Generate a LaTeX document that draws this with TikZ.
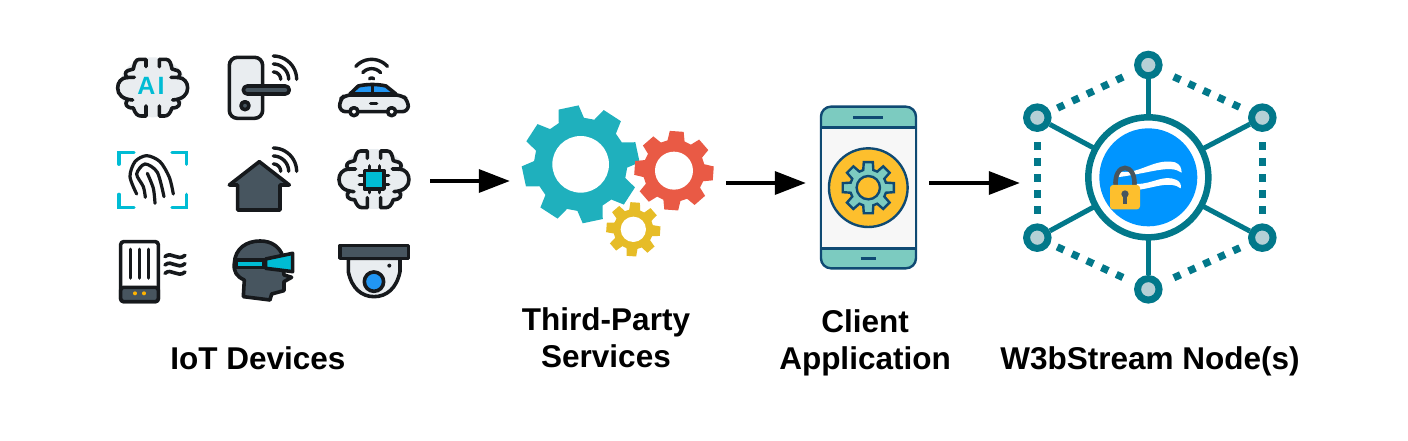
\documentclass[tikz,border=0pt]{standalone}
\usepackage{fontspec}
\setmainfont{Liberation Sans}
\usetikzlibrary{arrows.meta,calc}
\definecolor{iconblack}{HTML}{16191C}
\definecolor{icongray}{HTML}{E9EDF0}
\definecolor{iconslate}{HTML}{47555F}
\definecolor{iconcyan}{HTML}{00BCD4}
\definecolor{iconblue}{HTML}{2196F3}
\definecolor{iconamber}{HTML}{FFB300}
\definecolor{gearteal}{HTML}{1FB0BD}
\definecolor{gearred}{HTML}{E95A45}
\definecolor{gearyellow}{HTML}{E6BC27}
\definecolor{phonenavy}{HTML}{0F4A73}
\definecolor{phoneteal}{HTML}{7CCBC0}
\definecolor{phoneamber}{HTML}{FDBF2D}
\definecolor{hubteal}{HTML}{02788A}
\definecolor{hubpale}{HTML}{B5D0D6}
\definecolor{hubblue}{HTML}{0095FF}
\tikzset{>=latex,
  flow/.style={-{Triangle[length=31pt,width=23pt]},line width=3.5pt,black},
  anchorbox/.style={inner sep=0pt,minimum height=4pt},
  caption/.style={font=\fontsize{31.5}{37}\selectfont\bfseries,align=center,text=black},
  iconline/.style={draw=iconblack,line width=3.6pt,line join=round,line cap=round},
  fpline/.style={draw=iconblack,line width=3.2pt,line cap=round},
  wifiline/.style={draw=iconblack,line width=3.4pt,line cap=round},
  phoneline/.style={draw=phonenavy,line width=2.4pt},
  spoke/.style={draw=hubteal,line width=5pt},
  hubdot/.style={draw=hubteal,line width=7.3pt},
  hubnode/.style={circle,draw=hubteal,fill=hubpale,line width=7pt,minimum size=21.5pt,inner sep=0pt}
}
% one gear: cx, cy, body radius, tip radius, offset angle
\newcommand{\gearpath}[5]{($(#1,#2)+(#5-16:#3)$)
  \foreach \a in {0,45,...,315} { -- ($(#1,#2)+(#5+\a-16:#3)$) -- ($(#1,#2)+(#5+\a-10:#4)$) -- ($(#1,#2)+(#5+\a+10:#4)$) -- ($(#1,#2)+(#5+\a+16:#3)$) } -- cycle}
\newcommand{\wifiarcs}[7]{%
  \foreach \r in {#5,#6,#7}
    \draw[wifiline] plot[domain=#3:#4,samples=13,smooth] ({#1+\r*cos(\x)},{#2+\r*sin(\x)});}
% five square dots between two hub nodes: from, to, first distance, pitch
\newcommand{\dotrun}[4]{%
  \foreach \k in {0,...,4} {
    \pgfmathsetmacro{\da}{#3+\k*#4}
    \pgfmathsetmacro{\db}{\da+7.3}
    \draw[hubdot] ($(#1)!\da pt!(#2)$) -- ($(#1)!\db pt!(#2)$);
  }}
\newcommand{\brainicon}[2]{%
  \fill[icongray] (#1,#2) ellipse [x radius=100,y radius=90];
  \foreach \s in {1,-1} {
  \begin{scope}[shift={(#1,#2)},xscale=\s]
    \draw[iconline] (20,-62) -- (20,-84) -- (40,-84) .. controls (52,-84) and (55,-70) .. (58,-55)
      -- (75,-50) .. controls (85,-45) and (82,-35) .. (76,-28);
    \draw[iconline] (55,-30) -- (76,-30) .. controls (95,-28) and (105,-15) .. (105,2)
      .. controls (105,22) and (90,36) .. (60,38);
    \draw[iconline] (76,38) .. controls (85,50) and (80,62) .. (58,62)
      .. controls (52,80) and (45,86) .. (35,86) -- (20,86) -- (20,56);
  \end{scope}}}

\begin{document}
\begin{tikzpicture}[x=1pt,y=-1pt]
\useasboundingbox (0,0) rectangle (1408,440);

%devices
\begin{scope}[shift={(100,40)},x=.3333pt,y=-.3333pt]
\brainicon{158}{142}
\node[font=\fontsize{25}{25}\selectfont\bfseries,text=iconcyan,inner sep=0pt] (ai) at (153,137) {A\kern2ptI};

\draw[iconline,fill=icongray,rounded corners=8pt] (388,52) rectangle (488,235);
\draw[iconline,fill=iconslate,rounded corners=4pt] (430,138) rectangle (568,162);
\draw[iconline,fill=iconslate] (435,197) circle (12);
\wifiarcs{520}{118}{-90}{0}{22}{46}{70}

\wifiarcs{815}{122}{-138}{-42}{8}{36}{64}
\draw[iconline,fill=iconblue] (750,162) -- (775,138) .. controls (800,132) and (835,132) .. (858,138) -- (888,162) -- cycle;
\draw[iconline,fill=icongray,rounded corners=6pt] (719,215) -- (719,180) -- (735,165) -- (905,165) -- (925,182) -- (925,215) -- cycle;
\draw[iconline] (817,138) -- (817,162) (812,190) -- (830,190);
\draw[iconline,fill=white] (762,215) circle (12) (875,215) circle (12);

\draw[iconcyan,line width=3.2pt,line cap=round]
  (57,373) -- (57,337) -- (102,337)  (216,337) -- (260,337) -- (260,373)
  (57,463) -- (57,502) -- (102,502)  (216,502) -- (260,502) -- (260,463);
\draw[fpline] plot[smooth] coordinates {(110,462) (90,410) (105,365) (140,347) (180,365) (208,412) (220,462)};
\draw[fpline] plot[smooth] coordinates {(136,472) (130,440) (110,402) (135,372) (172,397) (192,470)};
\draw[fpline] plot[smooth] coordinates {(165,490) (160,445) (142,400)};

\draw[iconline,fill=iconslate] (388,435) -- (478,365) -- (568,435) -- (540,435) -- (540,510) -- (413,510) -- (413,435) -- cycle;
\wifiarcs{520}{394}{-90}{0}{22}{46}{70}

\brainicon{822}{417}
\foreach \p in {808,838} \draw[iconline] (\p,378) -- (\p,458);
\foreach \p in {406,433} \draw[iconline] (778,\p) -- (866,\p);
\draw[iconline,fill=iconcyan] (793,392) rectangle (852,447);

\draw[iconline,fill=white,rounded corners=3pt] (62,605) rectangle (175,785);
\draw[iconline,fill=iconslate,rounded corners=3pt] (62,742) rectangle (175,785);
\foreach \p in {92,118,145} \draw[iconline,fill=iconblack] (\p,628) -- (\p,714);
\fill[iconamber] (105,760) circle (6) (132,760) circle (6);
\foreach \p in {650,675,700}
  \draw[iconline] (195,\p) .. controls (215,\p-18) and (232,\p+16) .. (255,\p-4);

\draw[iconline,fill=iconslate] (403,670) .. controls (405,625) and (440,603) .. (480,603)
  .. controls (515,603) and (535,620) .. (545,640) -- (552,705) -- (575,712) -- (552,725)
  -- (552,752) -- (515,762) -- (510,780) -- (430,770) -- (433,720) .. controls (410,710) and (400,695) .. (403,670) -- cycle;
\draw[iconline,fill=iconcyan] (408,660) -- (492,660) -- (492,682) -- (408,682) -- cycle;
\draw[iconline,fill=iconcyan] (497,657) -- (578,640) -- (578,695) -- (497,685) -- cycle;

\draw[iconline,fill=icongray] (745,655) -- (745,695) .. controls (755,745) and (785,770) .. (822,770)
  .. controls (860,770) and (890,745) .. (900,695) -- (900,655) -- cycle;
\draw[iconline,fill=iconslate] (720,617) rectangle (925,655);
\draw[iconline,fill=iconblue] (822,725) circle (29);
\fill[iconblack] (868,677) circle (6);
\end{scope}

%gears
\begin{scope}[shift={(500,90)},x=.3333pt,y=-.3333pt]
\fill[gearteal] \gearpath{242}{223}{140}{177}{33};
\fill[white] (242,223) circle (85);
\fill[gearred] \gearpath{522}{242}{93}{120}{4};
\fill[white] (522,242) circle (57);
\fill[gearyellow] \gearpath{400}{418}{60}{82}{4};
\fill[white] (400,418) circle (38);

%phone
\draw[phoneline,fill=phoneteal,rounded corners=10pt] (963,50) rectangle (1248,535);
\draw[phoneline,fill=white!97!black] (963,112) rectangle (1248,475);
\draw[phoneline] (1060,82) -- (1150,82) (1082,505) -- (1128,505);
\draw[phoneline,fill=phoneamber] (1105,293) circle (118);
\draw[phoneline,fill=phoneteal] \gearpath{1105}{293}{55}{78}{0};
\draw[phoneline,fill=phoneamber] (1105,293) circle (35);
\end{scope}

%hub
\begin{scope}[shift={(1010,40)},x=.3333pt,y=-.3333pt]
\node[hubnode] (n1) at (415,75) {};
\node[hubnode] (n2) at (757,233) {};
\node[hubnode] (n3) at (757,593) {};
\node[hubnode] (n4) at (415,748) {};
\node[hubnode] (n5) at (82,593) {};
\node[hubnode] (n6) at (82,233) {};
\node[circle,minimum size=120pt,inner sep=0pt] (core) at (415,412) {};
\foreach \n in {n1,n2,n3,n4,n5,n6} \draw[spoke] (core) -- (\n);
\node[circle,draw=hubteal,fill=white,line width=6.5pt,minimum size=120pt,inner sep=0pt] (ring) at (415,412) {};
\node[circle,fill=hubblue,minimum size=98pt,inner sep=0pt] (disc) at (415,412) {};
\dotrun{n1}{n2}{28}{16.3}
\dotrun{n1}{n6}{28}{16.3}
\dotrun{n4}{n3}{28}{16.3}
\dotrun{n4}{n5}{28}{16.3}
\dotrun{n2}{n3}{24.7}{16}
\dotrun{n6}{n5}{24.7}{16}
\fill[white] (320,392) .. controls (380,412) and (430,352) .. (495,367)
  .. controls (510,372) and (515,385) .. (515,398) .. controls (480,372) and (420,400) .. (320,412) -- cycle;
\fill[white] (380,432) .. controls (430,432) and (460,402) .. (500,420)
  .. controls (510,425) and (515,435) .. (512,445) .. controls (480,420) and (430,445) .. (380,450) -- cycle;
\draw[iconslate,line width=4.6pt] (317,440) .. controls (310,365) and (380,365) .. (373,440);
\fill[phoneamber,rounded corners=3pt] (300,435) rectangle (390,508);
\fill[iconslate] (345,462) circle (11);
\draw[iconslate,line width=3.2pt] (345,462) -- (345,491);
\end{scope}

\begin{scope}[every node/.style={anchorbox}]
\node[minimum width=316pt] (devices) at (272,181) {};
\node[minimum width=216pt] (gears) at (618,181) {};
\node[minimum width=123pt] (phone) at (867.5,183) {};
\node[minimum width=260pt] (hub) at (1150,183) {};
\end{scope}

\draw[flow] (devices) -- (gears);
\draw[flow] (gears.east |- phone.west) -- (phone);
\draw[flow] (phone) -- (hub);

\node[caption] (devicestext) at (258,358) {IoT Devices};
\node[caption] (gearstext) at (606,338) {Third-Party\\Services};
\node[caption] (phonetext) at (865,343) {Client\\Application};
\node[caption] (hubtext) at (1150,361) {W3bStream Node(s)};
\end{tikzpicture}
\end{document}
